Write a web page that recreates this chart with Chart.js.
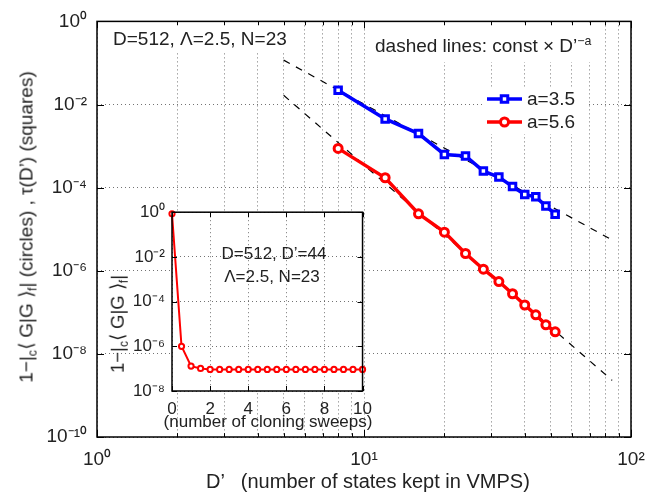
<!DOCTYPE html>
<html>
<head>
<meta charset="utf-8">
<script src="https://cdn.jsdelivr.net/npm/chart.js@4.4.1/dist/chart.umd.min.js"></script>
<style>
body { margin: 0; background: #fff; }
#wrap { position: relative; width: 669px; height: 493px; font-family: "Liberation Sans", Arial, sans-serif; color: #222; }
canvas { position: absolute; }
#main { left: 0; top: 0; }
#inset { left: 80px; top: 195px; }
.t { position: absolute; white-space: pre; line-height: 1; }
.rot { transform: translate(-50%, -50%) rotate(-90deg); }
.t sub { font-size: 65%; vertical-align: baseline; position: relative; top: 0.35em; line-height: 0; }
.t sup { font-size: 65%; vertical-align: baseline; position: relative; top: -0.6em; line-height: 0; }
</style>
</head>
<body>
<div id="wrap">
  <canvas id="main" width="669" height="493"></canvas>
  <canvas id="inset" width="300" height="240"></canvas>

  <div class="t rot" style="left:26px; top:227px; font-size:19px;">1−|<sub>c</sub>⟨ G|G ⟩<sub>f</sub>| (circles) , τ(D’) (squares)</div>
  <div class="t" style="left:206px; top:471px; font-size:20px;">D’   (number of states kept in VMPS)</div>
  <div class="t" style="left:113px; top:29px; font-size:19px;">D=512, Λ=2.5, N=23</div>
  <div class="t" style="left:375px; top:36px; font-size:19px;">dashed lines: const × D’<sup>−a</sup></div>

  <div class="t rot" style="left:118px; top:324px; font-size:18.5px;">1−|<sub>c</sub>⟨ G|G ⟩<sub>f</sub>|</div>
  <div class="t" style="left:274px; top:245px; font-size:17px; transform:translateX(-50%);">D=512, D’=44</div>
  <div class="t" style="left:272px; top:268px; font-size:17px; transform:translateX(-50%);">Λ=2.5, N=23</div>
  <div class="t" style="left:268px; top:413px; font-size:17px; transform:translateX(-50%);">(number of cloning sweeps)</div>
</div>

<script>
// main panel: D' = number of states kept
const keptStates = [8, 12, 16, 20, 24, 28, 32, 36, 40, 44, 48, 52];
const tauSquares = [2.2e-2, 4.5e-3, 2.0e-3, 6.3e-4, 5.8e-4, 2.5e-4, 1.8e-4, 1.06e-4, 6.8e-5, 6.0e-5, 3.6e-5, 2.3e-5];
const overlapCircles = [8.8e-4, 1.73e-4, 2.35e-5, 8.5e-6, 2.6e-6, 1.09e-6, 5.5e-7, 2.8e-7, 1.5e-7, 8.7e-8, 5.0e-8, 3.4e-8];

// dashed guide lines const x D'^-a, end points
const guideX = [5, 85];
const guideSquares = [0.117, 5.5e-6];
const guideCircles = [0.0167, 2.3e-9];

// inset: cloning sweeps
const sweeps = [0, 0.5, 1, 1.5, 2, 2.5, 3, 3.5, 4, 4.5, 5, 5.5, 6, 6.5, 7, 7.5, 8, 8.5, 9, 9.5, 10];
const sweepOverlap = [0.85, 1.0e-6, 1.3e-7, 1.02e-7, 9.2e-8, 9.2e-8, 9.2e-8, 9.2e-8, 9.2e-8, 9.2e-8, 9.2e-8,
                      9.2e-8, 9.2e-8, 9.2e-8, 9.2e-8, 9.2e-8, 9.2e-8, 9.2e-8, 9.2e-8, 9.2e-8, 9.2e-8];

// ticks
const mainXTicks = [1, 2, 3, 4, 5, 6, 7, 8, 9, 10, 20, 30, 40, 50, 60, 70, 80, 90, 100];
const mainXLabelAt = [1, 10, 100];
const mainXLabels = ['10⁰', '10¹', '10²'];
const mainYTicks = [1e-10, 1e-8, 1e-6, 1e-4, 1e-2, 1];
const mainYLabels = ['10⁻¹⁰', '10⁻⁸', '10⁻⁶', '10⁻⁴', '10⁻²', '10⁰'];
const insetXTicks = [0, 2, 4, 6, 8, 10];
const insetXLabels = ['0', '2', '4', '6', '8', '10'];
const insetYTicks = [1e-8, 1e-6, 1e-4, 1e-2, 1];
const insetYLabels = ['10⁻⁸', '10⁻⁶', '10⁻⁴', '10⁻²', '10⁰'];

Chart.defaults.font.family = '"Liberation Sans", Arial, sans-serif';
Chart.defaults.color = '#222';

const toPoints = (xs, ys) => xs.map((x, i) => ({ x: x, y: ys[i] }));

// frame, inward ticks, white text boxes and the legend (MATLAB look)
const framePlugin = {
  id: 'frame',
  beforeDraw(chart, args, opts) {
    if (!opts.fillArea) return;
    const a = chart.chartArea, ctx = chart.ctx;
    ctx.save();
    ctx.fillStyle = '#fff';
    ctx.fillRect(a.left, a.top, a.right - a.left, a.bottom - a.top);
    ctx.restore();
  },
  beforeDatasetsDraw(chart, args, opts) {
    const ctx = chart.ctx;
    ctx.save();
    ctx.fillStyle = '#fff';
    (opts.whiteBoxes || []).forEach(b => ctx.fillRect(b[0], b[1], b[2], b[3]));
    ctx.restore();
  },
  afterDraw(chart, args, opts) {
    const a = chart.chartArea, ctx = chart.ctx;
    const xs = chart.scales.x, ys = chart.scales.y;
    ctx.save();
    ctx.strokeStyle = '#000';
    ctx.lineWidth = 1;
    ctx.beginPath();
    xs.ticks.forEach(t => {
      const px = Math.round(xs.getPixelForValue(t.value)) + 0.5;
      const len = t.label ? opts.tick : opts.tick * 0.55;
      ctx.moveTo(px, a.bottom); ctx.lineTo(px, a.bottom - len);
      ctx.moveTo(px, a.top); ctx.lineTo(px, a.top + len);
    });
    ys.ticks.forEach(t => {
      const py = Math.round(ys.getPixelForValue(t.value)) + 0.5;
      ctx.moveTo(a.left, py); ctx.lineTo(a.left + opts.tick, py);
      ctx.moveTo(a.right, py); ctx.lineTo(a.right - opts.tick, py);
    });
    ctx.stroke();
    ctx.lineWidth = 1.5;
    ctx.strokeRect(a.left, a.top, a.right - a.left, a.bottom - a.top);

    if (opts.legend) {
      const L = opts.legend;
      L.rows.forEach((rowY, i) => {
        const ds = chart.data.datasets[i];
        ctx.strokeStyle = ds.borderColor;
        ctx.lineWidth = ds.borderWidth;
        ctx.beginPath();
        ctx.moveTo(L.x0, rowY); ctx.lineTo(L.x1, rowY);
        ctx.stroke();
        const cx = (L.x0 + L.x1) / 2;
        ctx.fillStyle = '#fff';
        ctx.lineWidth = ds.pointBorderWidth;
        ctx.beginPath();
        if (ds.pointStyle === 'rect') {
          const s = Math.SQRT1_2 * ds.pointRadius;
          ctx.rect(cx - s, rowY - s, 2 * s, 2 * s);
        } else {
          ctx.arc(cx, rowY, ds.pointRadius, 0, Math.PI * 2);
        }
        ctx.fill();
        ctx.stroke();
        ctx.fillStyle = '#222';
        ctx.font = '19px "Liberation Sans", Arial, sans-serif';
        ctx.textBaseline = 'middle';
        ctx.fillText(ds.label, L.textX, rowY + 1);
      });
    }
    ctx.restore();
  }
};

const dotted = { color: 'rgba(0,0,0,0.55)', lineWidth: 1, drawTicks: false };

new Chart(document.getElementById('main'), {
  type: 'line',
  data: {
    datasets: [
      { label: 'a=3.5', data: toPoints(keptStates, tauSquares), borderColor: '#0000ff', borderWidth: 3.5,
        pointStyle: 'rect', pointRadius: 4.6, pointBorderWidth: 3, pointBorderColor: '#0000ff',
        pointBackgroundColor: '#fff', clip: false },
      { label: 'a=5.6', data: toPoints(keptStates, overlapCircles), borderColor: '#ff0000', borderWidth: 3.5,
        pointStyle: 'circle', pointRadius: 4, pointBorderWidth: 3, pointBorderColor: '#ff0000',
        pointBackgroundColor: '#fff', clip: false },
      { label: 'guide 3.5', data: toPoints(guideX, guideSquares), borderColor: '#000', borderWidth: 1.2,
        borderDash: [7, 7], pointRadius: 0 },
      { label: 'guide 5.6', data: toPoints(guideX, guideCircles), borderColor: '#000', borderWidth: 1.2,
        borderDash: [7, 7], pointRadius: 0 }
    ]
  },
  options: {
    responsive: false,
    animation: false,
    events: [],
    layout: { padding: { left: 0, top: 15, right: 38, bottom: 0 } },
    plugins: {
      legend: { display: false },
      tooltip: { enabled: false },
      frame: {
        tick: 7,
        whiteBoxes: [[108, 22, 190, 31], [368, 24, 236, 38], [483, 88, 103, 46]],
        legend: { x0: 487, x1: 522, textX: 527, rows: [99, 122] }
      }
    },
    scales: {
      x: {
        type: 'logarithmic', min: 1, max: 100,
        afterBuildTicks: s => { s.ticks = mainXTicks.map(v => ({ value: v })); },
        afterFit: s => { s.height = 56; },
        grid: dotted,
        border: { display: false, dash: [1, 3] },
        ticks: {
          autoSkip: false, maxRotation: 0, padding: 11, font: { size: 19 }, color: '#222',
          callback: v => { const i = mainXLabelAt.indexOf(v); return i < 0 ? '' : mainXLabels[i]; }
        }
      },
      y: {
        type: 'logarithmic', min: 1e-10, max: 1,
        afterBuildTicks: s => { s.ticks = mainYTicks.map(v => ({ value: v })); },
        afterFit: s => { s.width = 97; },
        grid: dotted,
        border: { display: false, dash: [1, 3] },
        ticks: {
          autoSkip: false, padding: 10, font: { size: 19 }, color: '#222',
          callback: (v, i) => mainYLabels[i]
        }
      }
    }
  },
  plugins: [framePlugin]
});

new Chart(document.getElementById('inset'), {
  type: 'line',
  data: {
    datasets: [
      { label: 'sweeps', data: toPoints(sweeps, sweepOverlap), borderColor: '#ff0000', borderWidth: 2,
        pointStyle: 'circle', pointRadius: 2.6, pointBorderWidth: 2, pointBorderColor: '#ff0000',
        pointBackgroundColor: '#fff', clip: false }
    ]
  },
  options: {
    responsive: false,
    animation: false,
    events: [],
    layout: { padding: { left: 0, top: 14, right: 13.5, bottom: 0 } },
    plugins: {
      legend: { display: false },
      tooltip: { enabled: false },
      frame: { tick: 5, fillArea: true }
    },
    scales: {
      x: {
        type: 'linear', min: 0, max: 10,
        afterBuildTicks: s => { s.ticks = insetXTicks.map(v => ({ value: v })); },
        afterFit: s => { s.height = 44; },
        grid: dotted,
        border: { display: false, dash: [1, 3] },
        ticks: {
          autoSkip: false, maxRotation: 0, padding: 8, font: { size: 17 }, color: '#222',
          callback: (v, i) => insetXLabels[i]
        }
      },
      y: {
        type: 'logarithmic', min: 1e-8, max: 1,
        afterBuildTicks: s => { s.ticks = insetYTicks.map(v => ({ value: v })); },
        afterFit: s => { s.width = 92; },
        grid: dotted,
        border: { display: false, dash: [1, 3] },
        ticks: {
          autoSkip: false, padding: 7, font: { size: 17 }, color: '#222',
          callback: (v, i) => insetYLabels[i]
        }
      }
    }
  },
  plugins: [framePlugin]
});
</script>
</body>
</html>
